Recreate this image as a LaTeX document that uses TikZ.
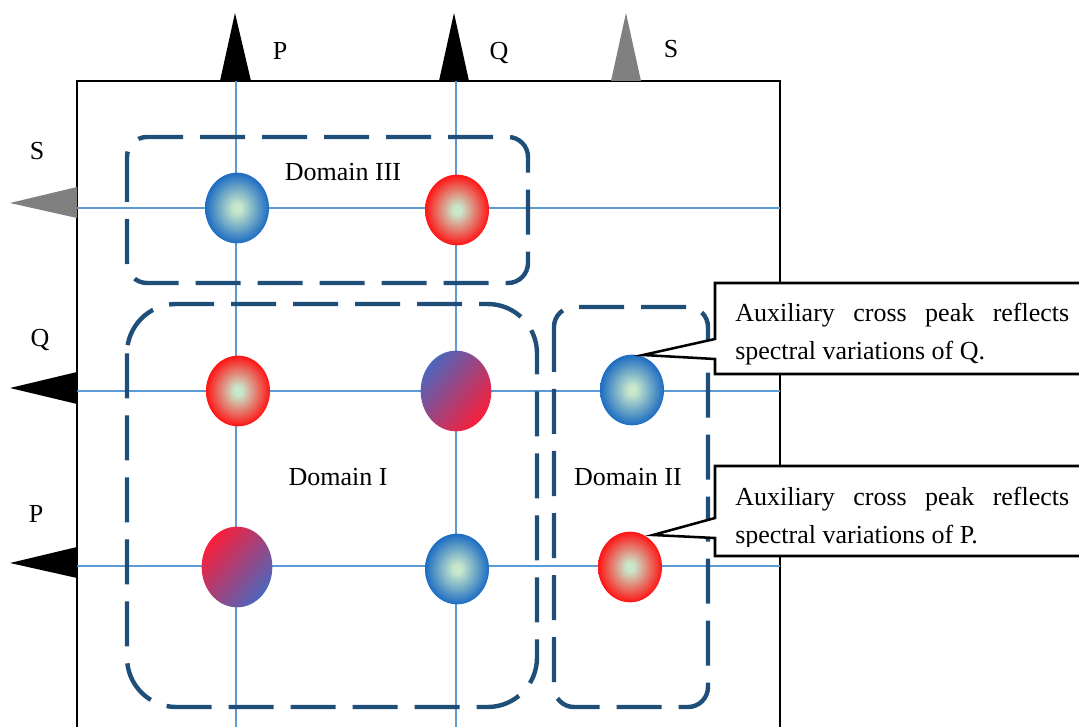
\documentclass[tikz,border=0pt]{standalone}
\usepackage{fontspec}
\setmainfont{Liberation Serif}
\usetikzlibrary{shapes.geometric}
\definecolor{gridblue}{HTML}{5B9BD5}
\definecolor{dashcol}{HTML}{1F4E79}
\definecolor{peakc}{HTML}{C8E8CC}
\definecolor{blueedge}{HTML}{1C6CC2}
\definecolor{rededge}{HTML}{FF1414}
\definecolor{mixb}{HTML}{4C66BC}
\definecolor{mixr}{HTML}{FA1E3A}
\definecolor{markgray}{HTML}{808080}
\pgfdeclareradialshading{bluepeak}{\pgfpoint{0bp}{0bp}}{color(0bp)=(peakc); color(3bp)=(peakc); color(25bp)=(blueedge); color(50bp)=(blueedge)}
\pgfdeclareradialshading{redpeak}{\pgfpoint{0bp}{0bp}}{color(0bp)=(peakc); color(3bp)=(peakc); color(25bp)=(rededge); color(50bp)=(rededge)}
\tikzset{
  every node/.style={font=\fontsize{19.5}{28.5}\selectfont, inner sep=0pt},
  frameline/.style={line width=2.2pt, black},
  gridline/.style={line width=1.1pt, gridblue},
  peak/.style={ellipse, inner sep=0pt, minimum width=48pt, minimum height=53pt},
  bluepk/.style={peak, shade, shading=bluepeak},
  redpk/.style={peak, shade, shading=redpeak},
  mixpk/.style={ellipse, inner sep=0pt, minimum width=53pt, minimum height=60.5pt},
  domainbox/.style={draw=dashcol, line width=3.3pt, dash pattern=on 33.75pt off 12.75pt},
  callout/.style={draw=black, fill=white, line width=1.9pt, line join=miter},
  lbl/.style={anchor=base},
}
\begin{document}
\begin{tikzpicture}[x=0.75pt,y=-0.75pt]
\clip (0,0) rectangle (1079,727);
\fill[white] (0,0) rectangle (1079,727);
% frame
\coordinate (fbl) at (77,745);
\coordinate (ftl) at (77,81);
\coordinate (ftr) at (780,81);
\coordinate (fbr) at (780,745);
\draw[frameline] (fbl) -- (ftl) -- (ftr) -- (fbr);
% grid lines
\coordinate (vPa) at (236,81); \coordinate (vPb) at (236,745);
\coordinate (vQa) at (456,81); \coordinate (vQb) at (456,745);
\coordinate (hSa) at (77,208); \coordinate (hSb) at (780,208);
\coordinate (hQa) at (77,391); \coordinate (hQb) at (780,391);
\coordinate (hPa) at (77,566); \coordinate (hPb) at (780,566);
\draw[gridline] (vPa) -- (vPb);
\draw[gridline] (vQa) -- (vQb);
\draw[gridline] (hSa) -- (hSb);
\draw[gridline] (hQa) -- (hQb);
\draw[gridline] (hPa) -- (hPb);
% markers
\fill[black] (220,81) -- (235,13) -- (251,81) -- cycle;
\fill[black] (439,81) -- (454,13) -- (469,81) -- cycle;
\fill[markgray] (611,81) -- (626,13) -- (641,81) -- cycle;
\fill[markgray] (77,187) -- (10,203) -- (77,218) -- cycle;
\fill[black] (77,372) -- (10,388) -- (77,404) -- cycle;
\fill[black] (77,547) -- (10,563) -- (77,578) -- cycle;
% marker labels
\node[lbl] (tP) at (280,60) {P};
\node[lbl] (tQ) at (499,60) {Q};
\node[lbl] (tS) at (671,58) {S};
\node[lbl] (lS) at (37,160) {S};
\node[lbl] (lQ) at (40,347) {Q};
\node[lbl] (lP) at (36,522) {P};
% peaks
\node[bluepk] (pSP) at (237,208) {};
\node[redpk] (pSQ) at (457,210) {};
\node[redpk] (pQP) at (238,391) {};
\node[mixpk, top color=mixb, bottom color=mixr, shading angle=50] (pQQ) at (456,391) {};
\node[bluepk] (pQS) at (632,390) {};
\node[mixpk, top color=mixr, bottom color=mixb, shading angle=50] (pPP) at (237,567) {};
\node[bluepk] (pPQ) at (457,569) {};
\node[redpk] (pPS) at (630,567) {};
% domains
\draw[domainbox, rounded corners=15pt] (127,137) rectangle (528,283);
\draw[domainbox, rounded corners=37pt] (127,304) rectangle (537,707);
\draw[domainbox, rounded corners=15pt] (554,307) rectangle (708,707);
\node[lbl] (d3) at (343,181) {Domain III};
\node[lbl] (d1) at (338,485) {Domain I};
\node[lbl] (d2) at (628,485) {Domain II};
% callouts
\coordinate (c1tip) at (643,355);
\coordinate (c2tip) at (653,535);
\draw[callout] (715,283) -- (1095,283) -- (1095,374) -- (715,374) -- (715,359) -- (c1tip) -- (715,339) -- cycle;
\draw[callout] (715,466) -- (1095,466) -- (1095,556) -- (715,556) -- (715,538) -- (c2tip) -- (715,518) -- cycle;
\node[anchor=base west] (t1) at (735,322) {\parbox[t]{250.5pt}{\makebox[250.5pt][s]{Auxiliary cross peak reflects}\\spectral variations of Q.}};
\begin{scope}
\clip (717,468) rectangle (1079,546);
\node[anchor=base west] (t2) at (735,505) {\parbox[t]{250.5pt}{\makebox[250.5pt][s]{Auxiliary cross peak reflects}\\spectral variations of P.}};
\end{scope}
\end{tikzpicture}
\end{document}
